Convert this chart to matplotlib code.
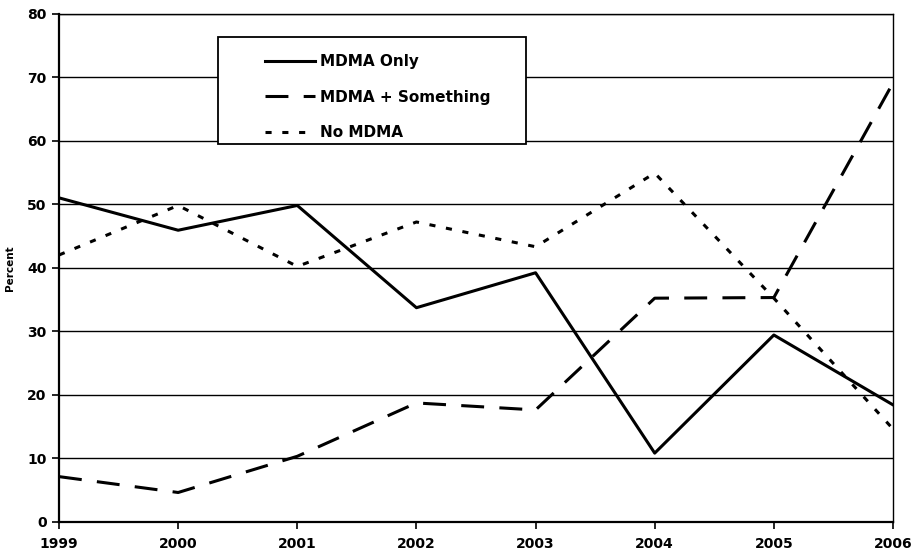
import numpy as np
import matplotlib.pyplot as plt
from matplotlib.patches import Rectangle

# data
years = [1999, 2000, 2001, 2002, 2003, 2004, 2005, 2006]
mdma_only = [51.0, 45.9, 49.8, 33.7, 39.2, 10.8, 29.4, 18.4]
mdma_plus = [7.1, 4.6, 10.3, 18.7, 17.6, 35.2, 35.3, 69.1]
no_mdma = [42.0, 49.8, 40.2, 47.2, 43.3, 54.9, 35.2, 14.6]

plt.rcParams['font.family'] = ['DejaVu Sans']
plt.rcParams['font.weight'] = 'bold'

W, H = 918, 554
x0, x1, y0, y1 = 59, 893, 13.7, 521.7

fig = plt.figure(figsize=(W/100, H/100), dpi=100)
ax = fig.add_axes([x0/W, 1 - y1/H, (x1-x0)/W, (y1-y0)/H])

ax.plot(years, mdma_only, color='black', lw=2.2, label='MDMA Only')
ax.plot(years, mdma_plus, color='black', lw=2.2, dashes=(7.5, 5), label='MDMA + Something')
ax.plot(years, no_mdma, color='black', lw=2.2, dashes=(2, 3.5), label='No MDMA')

ax.set_xlim(1999, 2006)
ax.set_ylim(0, 80)
ax.set_xticks(years)
ax.set_yticks(range(0, 81, 10))
ax.yaxis.grid(True, color='black', lw=1)
ax.set_axisbelow(True)
for s in ['left', 'bottom']:
    ax.spines[s].set_linewidth(1.6)
for s in ['top', 'right']:
    ax.spines[s].set_linewidth(1.0)
ax.tick_params(axis='both', labelsize=10, width=1.2, length=5, direction='out')
ax.tick_params(axis='x', pad=6)
ax.tick_params(axis='y', pad=4)
for lab in ax.get_xticklabels() + ax.get_yticklabels():
    lab.set_fontweight('bold')
ax.set_ylabel('Percent', fontsize=7.5, fontweight='bold', labelpad=9)

# legend box drawn by hand, legend entries inside it
def to_ax(px, py):
    return (px - x0) / (x1 - x0), (y1 - py) / (y1 - y0)

bx, by = to_ax(218, 144)
bx2, by2 = to_ax(526, 37)
ax.add_patch(Rectangle((bx, by), bx2 - bx, by2 - by, transform=ax.transAxes,
                       facecolor='white', edgecolor='black', lw=1.3, zorder=5))
lx, ly = to_ax(265, 54)
leg = ax.legend(loc='upper left', bbox_to_anchor=(lx, ly), frameon=False,
                fontsize=11, handlelength=3.3, handletextpad=0.3,
                labelspacing=1.35, borderpad=0, borderaxespad=0)
leg.set_zorder(6)
for t in leg.get_texts():
    t.set_fontweight('bold')

fig.savefig('out.png', dpi=100)
